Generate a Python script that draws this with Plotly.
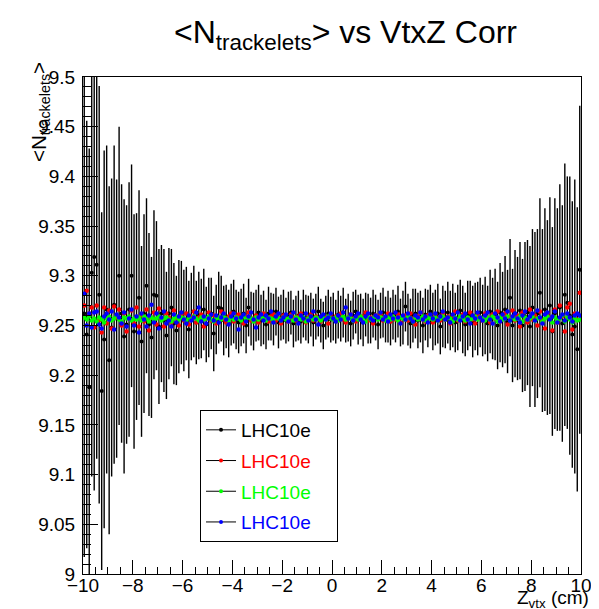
import numpy as np
import plotly.graph_objects as go

# ---------------- data ----------------
NBINS = 200
ZMIN, ZMAX = -10.0, 10.0
bin_width = (ZMAX - ZMIN) / NBINS
zvtx = ZMIN + bin_width * (np.arange(NBINS) + 0.5)

series_names = ["LHC10e", "LHC10e", "LHC10e", "LHC10e"]
series_colors = ["#000000", "#ff0000", "#00ff00", "#0000ff"]

black_vals = [
    9.262, 9.241, 9.188, 9.303, 9.319, 9.311, 9.281, 9.184, 9.236, 9.266,
    9.215, 9.248, 9.271, 9.257, 9.300, 9.262, 9.239, 9.251, 9.266, 9.300,
    9.244, 9.259, 9.278, 9.234, 9.262, 9.290, 9.251, 9.238, 9.281, 9.280,
    9.249, 9.262, 9.255, 9.240, 9.262, 9.268, 9.252, 9.245, 9.259, 9.263,
    9.255, 9.262, 9.246, 9.259, 9.264, 9.253, 9.260, 9.257, 9.266, 9.251,
    9.258, 9.262, 9.242, 9.256, 9.268, 9.267, 9.255, 9.259, 9.252, 9.261,
    9.264, 9.256, 9.253, 9.258, 9.262, 9.250, 9.268, 9.257, 9.254, 9.260,
    9.263, 9.255, 9.258, 9.251, 9.262, 9.259, 9.256, 9.264, 9.253, 9.258,
    9.261, 9.255, 9.259, 9.263, 9.252, 9.257, 9.260, 9.254, 9.262, 9.258,
    9.256, 9.261, 9.253, 9.259, 9.264, 9.255, 9.250, 9.258, 9.262, 9.256,
    9.259, 9.254, 9.261, 9.257, 9.263, 9.255, 9.258, 9.252, 9.260, 9.264,
    9.256, 9.259, 9.253, 9.261, 9.257, 9.255, 9.262, 9.258, 9.251, 9.260,
    9.263, 9.256, 9.259, 9.254, 9.261, 9.257, 9.264, 9.253, 9.258, 9.269,
    9.256, 9.252, 9.260, 9.262, 9.255, 9.259, 9.250, 9.261, 9.257, 9.264,
    9.254, 9.258, 9.262, 9.249, 9.259, 9.256, 9.263, 9.255, 9.260, 9.253,
    9.258, 9.265, 9.256, 9.251, 9.260, 9.262, 9.254, 9.259, 9.257, 9.263,
    9.255, 9.260, 9.252, 9.264, 9.257, 9.261, 9.250, 9.263, 9.256, 9.266,
    9.254, 9.278, 9.250, 9.262, 9.257, 9.265, 9.250, 9.259, 9.263, 9.249,
    9.268, 9.256, 9.262, 9.283, 9.255, 9.266, 9.258, 9.270, 9.244, 9.262,
    9.256, 9.268, 9.252, 9.281, 9.273, 9.260, 9.241, 9.249, 9.226, 9.306,
]

black_errs = [
    0.245, 0.215, 0.240, 0.205, 0.235, 0.195, 0.210, 0.180, 0.190, 0.165,
    0.175, 0.150, 0.160, 0.140, 0.150, 0.130, 0.138, 0.120, 0.128, 0.112,
    0.118, 0.104, 0.108, 0.096, 0.100, 0.088, 0.092, 0.081, 0.085, 0.075,
    0.078, 0.069, 0.072, 0.064, 0.066, 0.059, 0.061, 0.055, 0.057, 0.052,
    0.051, 0.047, 0.049, 0.044, 0.046, 0.042, 0.044, 0.040, 0.041, 0.038,
    0.040, 0.036, 0.038, 0.035, 0.036, 0.033, 0.035, 0.032, 0.034, 0.031,
    0.032, 0.030, 0.031, 0.029, 0.030, 0.028, 0.029, 0.027, 0.029, 0.026,
    0.028, 0.026, 0.027, 0.025, 0.027, 0.024, 0.026, 0.024, 0.026, 0.023,
    0.025, 0.023, 0.025, 0.022, 0.024, 0.023, 0.025, 0.022, 0.024, 0.023,
    0.024, 0.022, 0.024, 0.023, 0.025, 0.022, 0.024, 0.022, 0.024, 0.023,
    0.024, 0.022, 0.024, 0.023, 0.025, 0.022, 0.024, 0.023, 0.024, 0.022,
    0.025, 0.023, 0.024, 0.022, 0.025, 0.023, 0.024, 0.023, 0.025, 0.023,
    0.025, 0.023, 0.026, 0.024, 0.025, 0.024, 0.026, 0.024, 0.027, 0.025,
    0.026, 0.025, 0.027, 0.025, 0.028, 0.026, 0.028, 0.026, 0.029, 0.027,
    0.029, 0.028, 0.030, 0.028, 0.031, 0.029, 0.031, 0.030, 0.032, 0.030,
    0.033, 0.031, 0.034, 0.032, 0.035, 0.033, 0.036, 0.034, 0.037, 0.035,
    0.036, 0.039, 0.038, 0.042, 0.041, 0.046, 0.044, 0.050, 0.048, 0.054,
    0.052, 0.059, 0.057, 0.064, 0.062, 0.069, 0.067, 0.075, 0.073, 0.081,
    0.079, 0.088, 0.085, 0.095, 0.092, 0.102, 0.098, 0.109, 0.105, 0.116,
    0.112, 0.124, 0.119, 0.132, 0.127, 0.140, 0.134, 0.148, 0.143, 0.165,
]

red_vals = [
    9.270, 9.285, 9.262, 9.268, 9.248, 9.270, 9.255, 9.243, 9.268, 9.252,
    9.265, 9.247, 9.269, 9.258, 9.266, 9.250, 9.262, 9.244, 9.257, 9.265,
    9.252, 9.268, 9.249, 9.260, 9.254, 9.266, 9.245, 9.258, 9.263, 9.251,
    9.267, 9.256, 9.249, 9.262, 9.258, 9.253, 9.265, 9.257, 9.250, 9.261,
    9.255, 9.262, 9.251, 9.259, 9.264, 9.253, 9.258, 9.261, 9.249, 9.257,
    9.263, 9.255, 9.260, 9.252, 9.258, 9.264, 9.256, 9.253, 9.259, 9.262,
    9.254, 9.258, 9.261, 9.256, 9.252, 9.259, 9.263, 9.255, 9.257, 9.260,
    9.253, 9.258, 9.262, 9.256, 9.254, 9.259, 9.261, 9.255, 9.258, 9.252,
    9.260, 9.257, 9.254, 9.261, 9.258, 9.255, 9.259, 9.262, 9.256, 9.253,
    9.258, 9.261, 9.255, 9.259, 9.257, 9.254, 9.260, 9.258, 9.252, 9.261,
    9.257, 9.259, 9.255, 9.262, 9.256, 9.253, 9.258, 9.261, 9.257, 9.254,
    9.260, 9.256, 9.259, 9.263, 9.255, 9.258, 9.252, 9.260, 9.257, 9.261,
    9.255, 9.258, 9.262, 9.254, 9.259, 9.256, 9.261, 9.253, 9.258, 9.260,
    9.255, 9.262, 9.257, 9.251, 9.259, 9.263, 9.256, 9.254, 9.260, 9.258,
    9.253, 9.261, 9.257, 9.255, 9.262, 9.256, 9.259, 9.252, 9.260, 9.264,
    9.255, 9.258, 9.261, 9.254, 9.257, 9.263, 9.256, 9.252, 9.260, 9.258,
    9.255, 9.262, 9.258, 9.253, 9.261, 9.257, 9.264, 9.254, 9.259, 9.262,
    9.251, 9.258, 9.265, 9.255, 9.260, 9.249, 9.263, 9.257, 9.253, 9.266,
    9.256, 9.260, 9.250, 9.264, 9.255, 9.247, 9.262, 9.258, 9.245, 9.266,
    9.253, 9.270, 9.259, 9.244, 9.268, 9.272, 9.246, 9.262, 9.256, 9.283,
]

green_vals = [
    9.258, 9.256, 9.259, 9.255, 9.257, 9.254, 9.258, 9.256, 9.253, 9.257,
    9.259, 9.255, 9.257, 9.260, 9.256, 9.254, 9.258, 9.257, 9.259, 9.255,
    9.257, 9.256, 9.258, 9.255, 9.259, 9.257, 9.254, 9.258, 9.256, 9.257,
    9.259, 9.255, 9.257, 9.258, 9.256, 9.254, 9.257, 9.259, 9.256, 9.258,
    9.257, 9.255, 9.258, 9.256, 9.259, 9.257, 9.255, 9.258, 9.256, 9.257,
    9.259, 9.256, 9.254, 9.257, 9.258, 9.256, 9.259, 9.257, 9.255, 9.258,
    9.256, 9.258, 9.257, 9.255, 9.259, 9.256, 9.258, 9.257, 9.254, 9.258,
    9.256, 9.259, 9.257, 9.255, 9.258, 9.257, 9.256, 9.259, 9.257, 9.255,
    9.258, 9.256, 9.257, 9.259, 9.255, 9.258, 9.257, 9.256, 9.258, 9.254,
    9.257, 9.259, 9.256, 9.258, 9.257, 9.255, 9.258, 9.256, 9.259, 9.257,
    9.256, 9.258, 9.255, 9.257, 9.259, 9.256, 9.258, 9.257, 9.255, 9.258,
    9.256, 9.259, 9.257, 9.254, 9.258, 9.256, 9.257, 9.259, 9.256, 9.258,
    9.257, 9.255, 9.258, 9.256, 9.259, 9.257, 9.255, 9.258, 9.257, 9.256,
    9.259, 9.257, 9.254, 9.258, 9.256, 9.257, 9.259, 9.255, 9.258, 9.257,
    9.256, 9.258, 9.255, 9.257, 9.259, 9.256, 9.258, 9.257, 9.254, 9.258,
    9.256, 9.259, 9.257, 9.255, 9.258, 9.256, 9.257, 9.259, 9.256, 9.258,
    9.257, 9.255, 9.258, 9.256, 9.259, 9.257, 9.254, 9.258, 9.256, 9.257,
    9.259, 9.255, 9.258, 9.256, 9.257, 9.259, 9.254, 9.258, 9.256, 9.257,
    9.259, 9.255, 9.257, 9.258, 9.254, 9.257, 9.259, 9.256, 9.253, 9.258,
    9.255, 9.257, 9.260, 9.254, 9.258, 9.256, 9.253, 9.257, 9.255, 9.256,
]

blue_vals = [
    9.282, 9.250, 9.262, 9.248, 9.263, 9.264, 9.251, 9.247, 9.259, 9.262,
    9.256, 9.264, 9.246, 9.261, 9.258, 9.252, 9.263, 9.249, 9.257, 9.266,
    9.250, 9.259, 9.243, 9.262, 9.256, 9.249, 9.260, 9.271, 9.253, 9.262,
    9.247, 9.258, 9.264, 9.252, 9.255, 9.249, 9.261, 9.253, 9.259, 9.263,
    9.256, 9.252, 9.260, 9.255, 9.258, 9.263, 9.268, 9.254, 9.259, 9.252,
    9.257, 9.261, 9.255, 9.260, 9.253, 9.258, 9.262, 9.256, 9.251, 9.259,
    9.262, 9.257, 9.246, 9.258, 9.261, 9.254, 9.259, 9.263, 9.256, 9.248,
    9.258, 9.261, 9.255, 9.260, 9.257, 9.264, 9.253, 9.259, 9.262, 9.255,
    9.258, 9.261, 9.254, 9.259, 9.263, 9.256, 9.252, 9.260, 9.257, 9.262,
    9.255, 9.259, 9.264, 9.256, 9.251, 9.259, 9.261, 9.256, 9.258, 9.262,
    9.257, 9.254, 9.260, 9.256, 9.263, 9.268, 9.257, 9.261, 9.255, 9.259,
    9.262, 9.256, 9.253, 9.259, 9.262, 9.257, 9.255, 9.260, 9.258, 9.263,
    9.256, 9.259, 9.254, 9.261, 9.257, 9.263, 9.258, 9.252, 9.260, 9.256,
    9.262, 9.257, 9.254, 9.260, 9.258, 9.263, 9.256, 9.259, 9.253, 9.261,
    9.257, 9.262, 9.255, 9.259, 9.264, 9.256, 9.258, 9.253, 9.261, 9.257,
    9.263, 9.255, 9.259, 9.262, 9.256, 9.252, 9.260, 9.257, 9.263, 9.258,
    9.255, 9.260, 9.263, 9.256, 9.252, 9.262, 9.258, 9.254, 9.261, 9.257,
    9.264, 9.255, 9.259, 9.262, 9.257, 9.253, 9.260, 9.264, 9.256, 9.259,
    9.262, 9.255, 9.265, 9.258, 9.252, 9.261, 9.263, 9.256, 9.259, 9.264,
    9.253, 9.258, 9.261, 9.255, 9.262, 9.258, 9.254, 9.260, 9.262, 9.260,
]

x_tickvals = [-10, -8, -6, -4, -2, 0, 2, 4, 6, 8, 10]
x_ticktext = ["\u221210", "\u22128", "\u22126", "\u22124", "\u22122", "0", "2", "4", "6", "8", "10"]
y_tickvals = [9.0, 9.05, 9.1, 9.15, 9.2, 9.25, 9.3, 9.35, 9.4, 9.45, 9.5]
y_ticktext = ["9", "9.05", "9.1", "9.15", "9.2", "9.25", "9.3", "9.35", "9.4", "9.45", "9.5"]

# ---------------- figure ----------------
FONT = "Liberation Sans, Arial, Helvetica, sans-serif"
fig = go.Figure()

fig.add_trace(go.Scatter(
    x=zvtx, y=black_vals, mode="markers", showlegend=False,
    marker=dict(color=series_colors[0], size=4),
    error_y=dict(type="data", array=black_errs, color="black", thickness=1.4, width=0),
))
for vals, col in [(red_vals, series_colors[1]), (green_vals, series_colors[2]), (blue_vals, series_colors[3])]:
    fig.add_trace(go.Scatter(
        x=zvtx, y=vals, mode="markers", showlegend=False,
        marker=dict(color=col, size=4.5),
    ))

# legend entries (line + marker as in ROOT "lep")
for i, (nm, col) in enumerate(zip(series_names, series_colors)):
    fig.add_trace(go.Scatter(
        x=[None], y=[None], mode="lines+markers",
        name=f"<span style='color:{col}'>{nm}</span>&nbsp;&nbsp;&nbsp;&nbsp;",
        legendgroup=f"g{i}",
        line=dict(color="black", width=1),
        marker=dict(color=col, size=4),
    ))

fig.update_layout(
    width=599, height=609,
    margin=dict(l=75, r=26, t=69, b=43),
    paper_bgcolor="white", plot_bgcolor="white",
    font=dict(family=FONT, size=19, color="black"),
    showlegend=True,
    legend=dict(
        x=0.235, y=0.33, xanchor="left", yanchor="top",
        bgcolor="white", bordercolor="black", borderwidth=1,
        font=dict(size=19), tracegroupgap=3,
    ),
    xaxis=dict(
        range=[ZMIN, ZMAX], showgrid=False, zeroline=False,
        showline=True, linecolor="black", linewidth=1, mirror=True,
        ticks="inside", ticklen=14, tickcolor="black",
        tickvals=x_tickvals, ticktext=x_ticktext,
        minor=dict(dtick=0.5, ticks="inside", ticklen=7, tickcolor="black"),
        tickfont=dict(size=19), ticklabelstandoff=-6,
    ),
    yaxis=dict(
        range=[9.0, 9.5], showgrid=False, zeroline=False,
        showline=True, linecolor="black", linewidth=1, mirror=True,
        ticks="inside", ticklen=15, tickcolor="black",
        tickvals=y_tickvals, ticktext=y_ticktext,
        minor=dict(dtick=0.01, ticks="inside", ticklen=8, tickcolor="black"),
        tickfont=dict(size=19), ticklabelstandoff=3,
    ),
    annotations=[
        dict(text="&lt;N<sub>trackelets</sub>&gt; vs VtxZ Corr",
             xref="paper", yref="paper", x=0.528, y=(566 - 27) / 497,
             xanchor="center", yanchor="middle", showarrow=False,
             font=dict(size=32)),
        dict(text="&lt;N<sub>trackelets</sub>&gt;",
             xref="paper", yref="paper", x=-0.0864, y=1.034,
             xanchor="center", yanchor="top", showarrow=False,
             textangle=-90, font=dict(size=20.5)),
        dict(text="Z<sub>vtx</sub> (cm)",
             xref="paper", yref="paper", x=1.02, y=-0.05,
             xanchor="right", yanchor="middle", showarrow=False,
             font=dict(size=19)),
    ],
)

fig.write_html("out.html")
